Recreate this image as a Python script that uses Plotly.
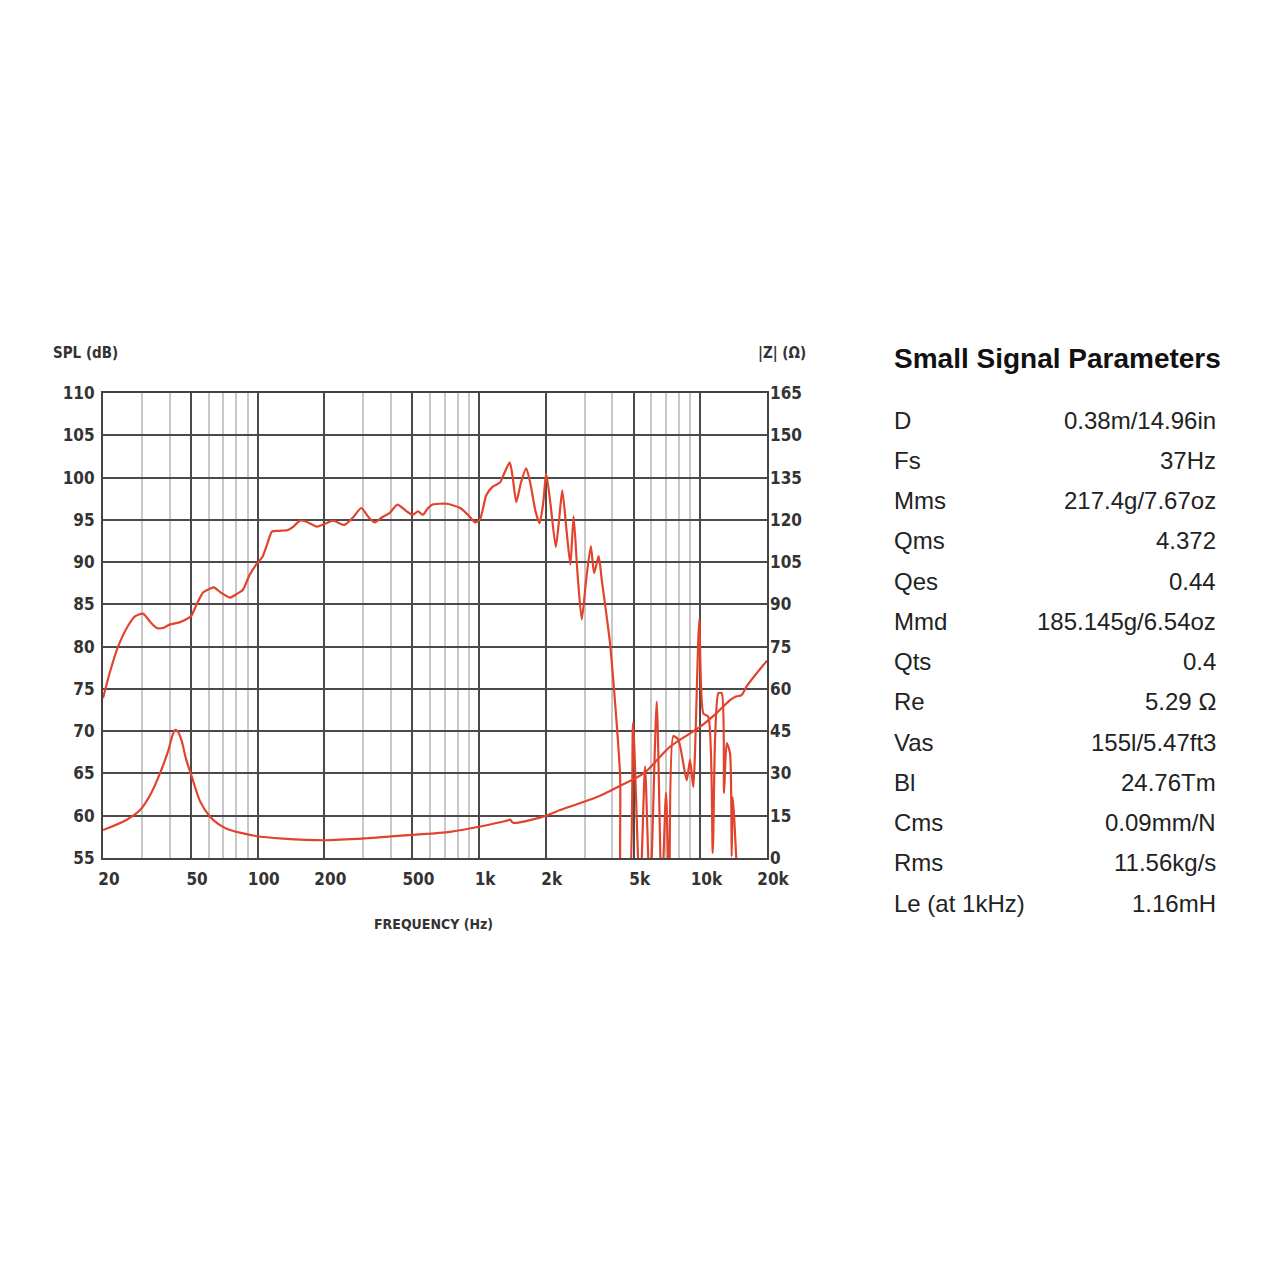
import plotly.graph_objects as go

# SPL response (Hz, dB)
spl_freq = [20, 21.5, 23.4, 26, 28, 30.3, 33, 35, 37.3, 40, 44.6, 48, 50, 53, 56.6, 60, 63.5, 68, 75, 80, 85.6,
            92, 99.7, 105, 110, 116, 125, 137, 145, 155, 165, 185, 200, 219, 246, 270, 294, 315, 338, 365, 394,
            428, 471, 501, 530, 558, 585, 617, 713, 822, 906, 958, 1008, 1078, 1150, 1243, 1300, 1376, 1420,
            1473, 1550, 1632, 1700, 1800, 1878, 1950, 2010, 2100, 2222, 2300, 2377, 2480, 2587, 2674, 2780,
            2911, 3050, 3201, 3309, 3470, 3584, 3906, 4335, 4450, 4710, 4963, 5337, 5623, 5920, 6350, 6690,
            6995, 7240, 7545, 7950, 8675, 8980, 9290, 9890, 10310, 10860, 11370, 11650, 12060, 12490, 12790,
            13150, 13610, 13850, 14000, 14840]
spl_db = [73.9, 77.0, 80.0, 82.5, 83.6, 83.9, 82.8, 82.2, 82.2, 82.6, 82.9, 83.3, 83.6, 85.0, 86.4, 86.8, 87.0,
          86.4, 85.8, 86.2, 86.7, 88.5, 89.9, 90.6, 92.0, 93.6, 93.7, 93.8, 94.2, 94.9, 94.8, 94.2, 94.5, 94.9,
          94.4, 95.3, 96.4, 95.4, 94.7, 95.3, 95.8, 96.8, 96.0, 95.6, 96.0, 95.6, 96.3, 96.8, 96.9, 96.4, 95.4,
          94.7, 95.0, 97.9, 98.9, 99.4, 100.5, 101.8, 100.0, 97.1, 99.5, 101.1, 99.5, 96.0, 94.6, 97.0, 100.5,
          97.0, 91.8, 95.0, 98.5, 94.0, 89.7, 95.4, 89.0, 83.2, 88.0, 91.9, 88.7, 90.7, 87.9, 80.4, 65.0, 50.0,
          50.0, 71.0, 50.0, 65.8, 50.0, 73.5, 50.0, 62.7, 50.0, 69.4, 69.0, 64.2, 66.6, 63.4, 83.2, 72.1, 71.7,
          55.6, 69.0, 74.5, 74.5, 62.7, 68.6, 67.4, 55.2, 62.2, 50.0]

# impedance magnitude (Hz, ohm)
imp_freq = [20, 25.5, 29.4, 33, 36.2, 39.5, 41, 42.3, 43.5, 45.2, 47.5, 50.4, 55, 60.8, 66, 72, 84, 98, 130,
            201, 311, 496, 739, 1000, 1329, 1380, 1424, 1992, 2325, 2848, 3500, 4260, 5560, 7300, 10000, 11800,
            13660, 14500, 15350, 16150, 19800, 20000]
imp_ohm = [9.9, 13.5, 17.0, 23.0, 30.1, 38.3, 43.0, 45.4, 45.0, 41.9, 35.0, 28.8, 20.0, 14.7, 12.2, 10.5, 8.9,
           7.8, 6.9, 6.3, 7.0, 8.2, 9.3, 11.1, 13.2, 13.6, 12.5, 14.9, 17.0, 19.4, 22.0, 25.3, 30.1, 39.5, 46.6,
           51.3, 56.1, 57.3, 57.8, 60.8, 69.6, 70.0]

x_major = [20, 50, 100, 200, 500, 1000, 2000, 5000, 10000, 20000]
x_labels = ['20', '50', '100', '200', '500', '1k', '2k', '5k', '10k', '20k']
x_minor = [30, 40, 60, 70, 80, 90, 300, 400, 600, 700, 800, 900,
           3000, 4000, 6000, 7000, 8000, 9000]

param_names = ['D', 'Fs', 'Mms', 'Qms', 'Qes', 'Mmd', 'Qts', 'Re', 'Vas', 'Bl', 'Cms', 'Rms', 'Le (at 1kHz)']
param_values = ['0.38m/14.96in', '37Hz', '217.4g/7.67oz', '4.372', '0.44', '185.145g/6.54oz', '0.4',
                '5.29 Ω', '155l/5.47ft3', '24.76Tm', '0.09mm/N', '11.56kg/s', '1.16mH']

W = H = 1280
OFF = 8  # page body margin shifts the figure
RED = '#E2432C'
GRID = '#4a4a4a'
CONDENSED = 'Liberation Sans Narrow, DejaVu Sans Condensed, Arial Narrow'
AXFONT = dict(family=CONDENSED, size=17, color='#333333', weight='bold')


def fx(px):
    return (px - OFF) / W


def fy(py):
    return 1 - (py - OFF) / H


fig = go.Figure()

fig.add_trace(go.Scatter(x=spl_freq, y=spl_db, mode='lines', name='SPL', yaxis='y',
                         line=dict(color=RED, width=2.2, shape='spline', smoothing=0.6)))
fig.add_trace(go.Scatter(x=imp_freq, y=imp_ohm, mode='lines', name='|Z|', yaxis='y2',
                         line=dict(color=RED, width=2.2, shape='spline', smoothing=0.8)))

# plot area box in pixels
px_l, px_r, px_t, px_b = 103, 767, 393, 858

fig.update_layout(
    width=W, height=H, autosize=False,
    margin=dict(l=0, r=0, t=0, b=0, autoexpand=False),
    paper_bgcolor='white', plot_bgcolor='white',
    showlegend=False,
    xaxis=dict(
        type='log', range=[1.30103, 4.30103],
        domain=[fx(px_l), fx(px_r)], automargin=False,
        tickmode='array', tickvals=x_major, ticktext=x_labels,
        showgrid=True, gridcolor=GRID, gridwidth=1.8,
        minor=dict(tickmode='array', tickvals=x_minor, showgrid=True, gridcolor='#c8c8c8', gridwidth=1.8,
                   ticks=''),
        showline=True, linecolor='#444444', linewidth=2, mirror=True,
        ticks='', tickfont=AXFONT, ticklabelshift=6, ticklabelstandoff=5,
        zeroline=False, fixedrange=True,
    ),
    yaxis=dict(
        range=[55, 110], dtick=5, tick0=55,
        domain=[fy(px_b), fy(px_t)], automargin=False,
        showgrid=True, gridcolor=GRID, gridwidth=1.8,
        showline=True, linecolor='#444444', linewidth=2, mirror=True,
        ticks='', tickfont=AXFONT, ticklabelstandoff=3, zeroline=False,
    ),
    yaxis2=dict(
        range=[0, 165], dtick=15, tick0=0, overlaying='y', side='right', automargin=False,
        showgrid=False, ticks='', tickfont=AXFONT, ticklabelstandoff=2, zeroline=False,
    ),
)


def note(text, px, py, size, anchor='center', family=CONDENSED, weight='bold', color='#333333'):
    fig.add_annotation(text=text, x=fx(px), y=fy(py), xref='paper', yref='paper',
                       xanchor=anchor, yanchor='middle', showarrow=False,
                       font=dict(family=family, size=size, color=color, weight=weight))


note('SPL (dB)', 85, 353, 15)
note('|Z| (Ω)', 782, 353, 15)
note('FREQUENCY (Hz)', 433, 924, 14)

# parameter table
note('Small Signal Parameters', 892, 358, 28, anchor='left', family='Liberation Sans, Arial', color='#111111')
for i, (name, val) in enumerate(zip(param_names, param_values)):
    yy = 420 + i * 40.25
    note(name, 892, yy, 24, anchor='left', family='Liberation Sans, Arial', weight='normal', color='#222222')
    note(val, 1218, yy, 24, anchor='right', family='Liberation Sans, Arial', weight='normal', color='#222222')

fig.write_html("out.html")
